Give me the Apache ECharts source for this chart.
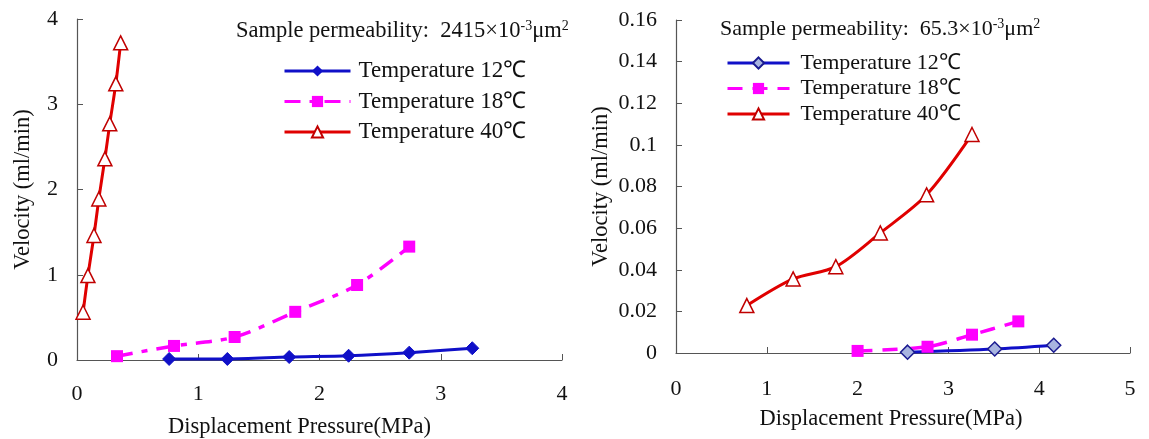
<!DOCTYPE html>
<html>
<head>
<meta charset="utf-8">
<script src="https://cdn.jsdelivr.net/npm/echarts@6/dist/echarts.min.js"></script>
<style>
html,body{margin:0;padding:0;background:#fff;}
#c{width:1149px;height:439px;}
</style>
</head>
<body>
<div id="c"></div>
<script>
// ---- Left panel (permeability 2415e-3 um2) ----
const L12_x = [0.76, 1.24, 1.75, 2.24, 2.74, 3.26];
const L12_y = [0.012, 0.012, 0.035, 0.05, 0.086, 0.138];
const L18_x = [0.33, 0.80, 1.30, 1.80, 2.31, 2.74];
const L18_y = [0.045, 0.165, 0.27, 0.565, 0.88, 1.33];
const L40_x = [0.05, 0.09, 0.14, 0.18, 0.23, 0.27, 0.32, 0.36];
const L40_y = [0.56, 0.99, 1.46, 1.89, 2.36, 2.77, 3.24, 3.72];
// ---- Right panel (permeability 65.3e-3 um2) ----
const R12_x = [2.55, 3.51, 4.16];
const R12_y = [0.0004, 0.0019, 0.0037];
const R18_x = [2.00, 2.77, 3.26, 3.77];
const R18_y = [0.001, 0.003, 0.0088, 0.0152];
const R40_x = [0.78, 1.29, 1.76, 2.25, 2.76, 3.26];
const R40_y = [0.0228, 0.0356, 0.0415, 0.0577, 0.076, 0.105];

const seriesNames = ['Temperature 12℃', 'Temperature 18℃', 'Temperature 40℃'];
const xTitle = 'Displacement Pressure(MPa)';
const yTitle = 'Velocity (ml/min)';
const leftNote = 'Sample permeability:  2415×10{sup|-3}μm{sup|2}';
const rightNote = 'Sample permeability:  65.3×10{sup|-3}μm{sup|2}';

const zip = (xs, ys) => xs.map((x, i) => [x, ys[i]]);
const FONT = 'Liberation Serif';
const BLUE = '#1010c8', PINK = '#ff00ff', RED = '#e00000', DRED = '#c00000';
const RSUF = ' ';  // distinguishes right-panel legend entries

function axisCommon() {
  return {
    axisLine: {show: true, lineStyle: {color: '#555', width: 1.2}},
    axisTick: {show: true, inside: true, length: 6, lineStyle: {color: '#555'}},
    splitLine: {show: false}
  };
}
const lbl = (m) => ({color: '#111', fontFamily: FONT, fontSize: 22, margin: m});
const nm = (pad) => ({color: '#111', fontFamily: FONT, fontSize: 22.5, padding: pad});
const supStyle = {sup: {fontFamily: FONT, fontSize: 14, color: '#111', verticalAlign: 'top', padding: [0,0,11,0]}};

const option = {
  animation: false,
  backgroundColor: '#fff',
  title: [
    {text: leftNote, left: 236, top: 19, padding: 0,
     textStyle: {fontFamily: FONT, fontSize: 22.5, fontWeight: 'normal', color: '#111', rich: supStyle}},
    {text: rightNote, left: 720, top: 17, padding: 0,
     textStyle: {fontFamily: FONT, fontSize: 22, fontWeight: 'normal', color: '#111', rich: supStyle}}
  ],
  legend: [
    {orient: 'vertical', left: 278, top: 54, itemWidth: 66, itemHeight: 14, itemGap: 6.5,
     data: seriesNames, lineStyle: {width: 3},
     textStyle: {fontFamily: FONT, fontSize: 23, lineHeight: 24, color: '#111', padding: [0,0,0,3]}},
    {orient: 'vertical', left: 721, top: 47, itemWidth: 62, itemHeight: 14, itemGap: 3.5,
     data: seriesNames.map(n => n + RSUF), lineStyle: {width: 3},
     formatter: n => n.trim(),
     textStyle: {fontFamily: FONT, fontSize: 22, lineHeight: 22, color: '#111', padding: [0,0,0,6]}}
  ],
  grid: [
    {left: 77, top: 19, width: 485, height: 341, outerBoundsMode: 'none', containLabel: false},
    {left: 676, top: 20, width: 454, height: 333, outerBoundsMode: 'none', containLabel: false}
  ],
  xAxis: [
    Object.assign(axisCommon(), {gridIndex: 0, type: 'value', min: 0, max: 4, interval: 1,
      name: xTitle, nameLocation: 'middle', nameGap: 56,
      nameTextStyle: nm([0, 40, 0, 0]), axisLabel: lbl(23)}),
    Object.assign(axisCommon(), {gridIndex: 1, type: 'value', min: 0, max: 5, interval: 1,
      name: xTitle, nameLocation: 'middle', nameGap: 55,
      nameTextStyle: nm([0, 24, 0, 0]), axisLabel: lbl(25)})
  ],
  yAxis: [
    Object.assign(axisCommon(), {gridIndex: 0, type: 'value', min: 0, max: 4, interval: 1,
      name: yTitle, nameLocation: 'middle', nameGap: 42,
      nameTextStyle: nm(0), axisLabel: lbl(19)}),
    Object.assign(axisCommon(), {gridIndex: 1, type: 'value', min: 0, max: 0.16, interval: 0.02,
      name: yTitle, nameLocation: 'middle', nameGap: 63,
      nameTextStyle: nm(0), axisLabel: lbl(19)})
  ],
  series: [
    {name: seriesNames[0], type: 'line', xAxisIndex: 0, yAxisIndex: 0, data: zip(L12_x, L12_y),
     smooth: 0.3, symbol: 'diamond', symbolSize: 13,
     lineStyle: {color: BLUE, width: 3}, itemStyle: {color: BLUE, borderColor: BLUE}},
    {name: seriesNames[1], type: 'line', xAxisIndex: 0, yAxisIndex: 0, data: zip(L18_x, L18_y),
     smooth: 0.3, symbol: 'rect', symbolSize: 12,
     lineStyle: {color: PINK, width: 3.5, type: [16, 9, 6, 9]}, itemStyle: {color: PINK}},
    {name: seriesNames[2], type: 'line', xAxisIndex: 0, yAxisIndex: 0, data: zip(L40_x, L40_y),
     smooth: 0.3, symbol: 'triangle', symbolSize: 14, z: 3,
     lineStyle: {color: RED, width: 3}, itemStyle: {color: '#fff', borderColor: DRED, borderWidth: 1.5}},
    {name: seriesNames[0] + RSUF, type: 'line', xAxisIndex: 1, yAxisIndex: 1, data: zip(R12_x, R12_y),
     smooth: 0.3, symbol: 'diamond', symbolSize: 14,
     lineStyle: {color: BLUE, width: 3}, itemStyle: {color: '#a8b4e0', borderColor: '#1a1a90', borderWidth: 1.5}},
    {name: seriesNames[1] + RSUF, type: 'line', xAxisIndex: 1, yAxisIndex: 1, data: zip(R18_x, R18_y),
     smooth: 0.3, symbol: 'rect', symbolSize: 12,
     lineStyle: {color: PINK, width: 3.5, type: [15, 10]}, itemStyle: {color: PINK}},
    {name: seriesNames[2] + RSUF, type: 'line', xAxisIndex: 1, yAxisIndex: 1, data: zip(R40_x, R40_y),
     smooth: 0.3, symbol: 'triangle', symbolSize: 14,
     lineStyle: {color: RED, width: 3}, itemStyle: {color: '#fff', borderColor: DRED, borderWidth: 1.5}}
  ]
};

const chart = echarts.init(document.getElementById('c'), null, {renderer: 'canvas'});
chart.setOption(option);
</script>
</body>
</html>
